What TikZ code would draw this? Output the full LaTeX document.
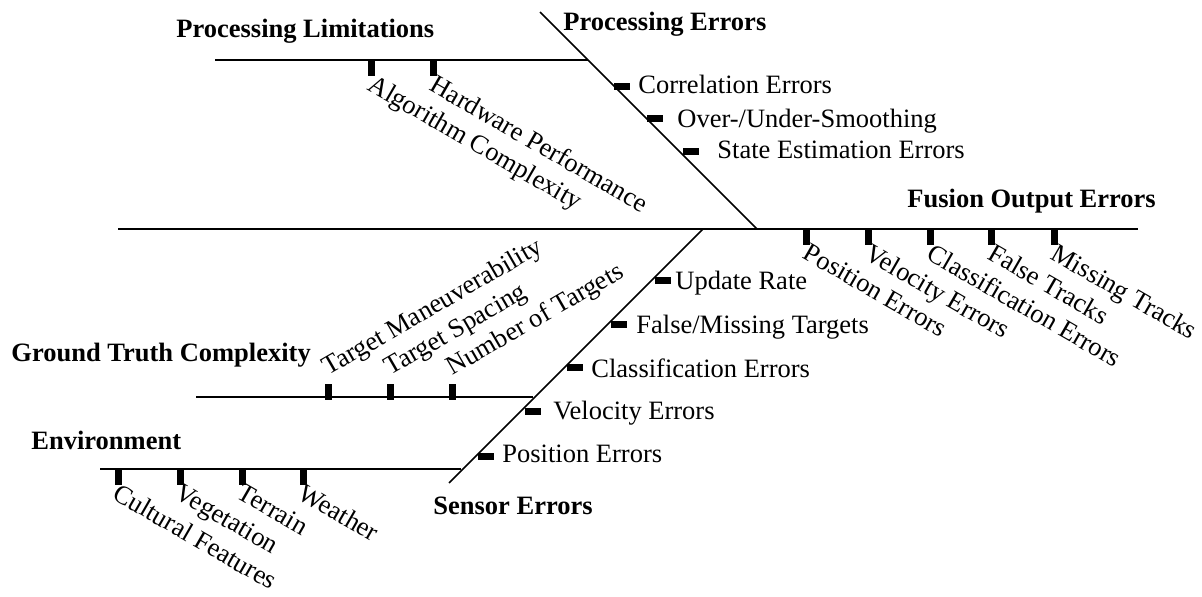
\documentclass[tikz,border=0pt]{standalone}
\usepackage{fontspec}
\setmainfont{Liberation Serif}
\usetikzlibrary{calc}
\begin{document}
\begin{tikzpicture}[x=0.5pt,y=-0.5pt,
  lbl/.style={font=\fontsize{13.25}{15}\selectfont, inner sep=0pt},
  head/.style={font=\fontsize{13.25}{15}\selectfont\bfseries, inner sep=0pt, anchor=base west},
  vtick/.style={fill=black, draw=none, minimum width=3.5pt, minimum height=8pt, inner sep=0pt, outer sep=0pt},
  htick/.style={fill=black, draw=none, minimum width=8pt, minimum height=3.5pt, inner sep=0pt, outer sep=0pt, anchor=west},
  dlbl/.style={lbl, rotate=-30, anchor=north west},
  ulbl/.style={lbl, rotate=30, anchor=south west},
  bone/.style={line width=0.75pt},
  spine/.style={line width=1pt}]
\useasboundingbox (0,0) rectangle (1202,597);

% line end points
\coordinate (sp0) at (118,229);
\coordinate (sp1) at (1138,229);
\coordinate (pe0) at (540,12);
\coordinate (pe1) at (757,229);
\coordinate (pl0) at (215,60);
\coordinate (pl1) at (588,60);
\coordinate (se0) at (703,229);
\coordinate (se1) at (449,483);
\coordinate (gt0) at (196,397);
\coordinate (gt1) at (533,397);
\coordinate (en0) at (100,469);
\coordinate (en1) at (461,469);

\draw[spine] (sp0) -- (sp1);
\draw[bone] (pe0) -- (pe1);
\draw[bone] (pl0) -- (pl1);
\draw[bone] (se0) -- (se1);
\draw[bone] (gt0) -- (gt1);
\draw[bone] (en0) -- (en1);

% headings
\node[head] (hpl) at (176,38) {Processing Limitations};
\node[head] (hpe) at (563,31) {Processing Errors};
\node[head] (hfo) at (907,208) {Fusion Output Errors};
\node[head] (hgt) at (11,362) {Ground Truth Complexity};
\node[head] (hen) at (31,450) {Environment};
\node[head] (hse) at (433,514) {Sensor Errors};

% Processing Limitations
\node[vtick, anchor=north] (pl1t) at (371,60) {};
\node[vtick, anchor=north] (pl2t) at (433,60) {};
\node[dlbl] (pl1l) at ($(pl1t.south west)+(8,-3)$) {Algorithm Complexity};
\node[dlbl] (pl2l) at ($(pl2t.south west)+(8,-3)$) {Hardware Performance};

% Processing Errors
\node[htick] (pe1t) at (614,87) {};
\node[htick] (pe2t) at (647,119) {};
\node[htick] (pe3t) at (683,152) {};
\node[lbl, anchor=base west] (pe1l) at (638,94) {Correlation Errors};
\node[lbl, anchor=base west] (pe2l) at (677,128) {Over-/Under-Smoothing};
\node[lbl, anchor=base west] (pe3l) at (717,159) {State Estimation Errors};

% Fusion Output Errors
\foreach \x/\n/\t in {806/1/Position Errors, 868/2/Velocity Errors, 930/3/Classification Errors, 991/4/False Tracks, 1054/5/Missing Tracks}{
  \node[vtick, anchor=north] (fo\n t) at (\x,229) {};
  \node[dlbl] (fo\n l) at ($(fo\n t.south west)+(8,-3)$) {\t};
}

% Sensor Errors
\node[htick] (se1t) at (655,281) {};
\node[htick] (se2t) at (611,325) {};
\node[htick] (se3t) at (567,368) {};
\node[htick] (se4t) at (525,412) {};
\node[htick] (se5t) at (478,457) {};
\node[lbl, anchor=base west] (se1l) at (675,290) {Update Rate};
\node[lbl, anchor=base west] (se2l) at (636,334) {False/Missing Targets};
\node[lbl, anchor=base west] (se3l) at (591,378) {Classification Errors};
\node[lbl, anchor=base west] (se4l) at (553,420) {Velocity Errors};
\node[lbl, anchor=base west] (se5l) at (502,463) {Position Errors};

% Ground Truth Complexity
\foreach \x/\n/\t in {328/1/Target Maneuverability, 390/2/Target Spacing, 452/3/Number of Targets}{
  \node[vtick] (gt\n t) at (\x,392.5) {};
  \node[ulbl] (gt\n l) at ($(gt\n t.north west)+(7,-3)$) {\t};
}

% Environment
\foreach \x/\n/\t in {118/1/Cultural Features, 180/2/Vegetation, 242/3/Terrain, 303/4/Weather}{
  \node[vtick, anchor=north] (en\n t) at (\x,469) {};
  \node[dlbl] (en\n l) at ($(en\n t.south west)+(6,-3)$) {\t};
}
\end{tikzpicture}
\end{document}
